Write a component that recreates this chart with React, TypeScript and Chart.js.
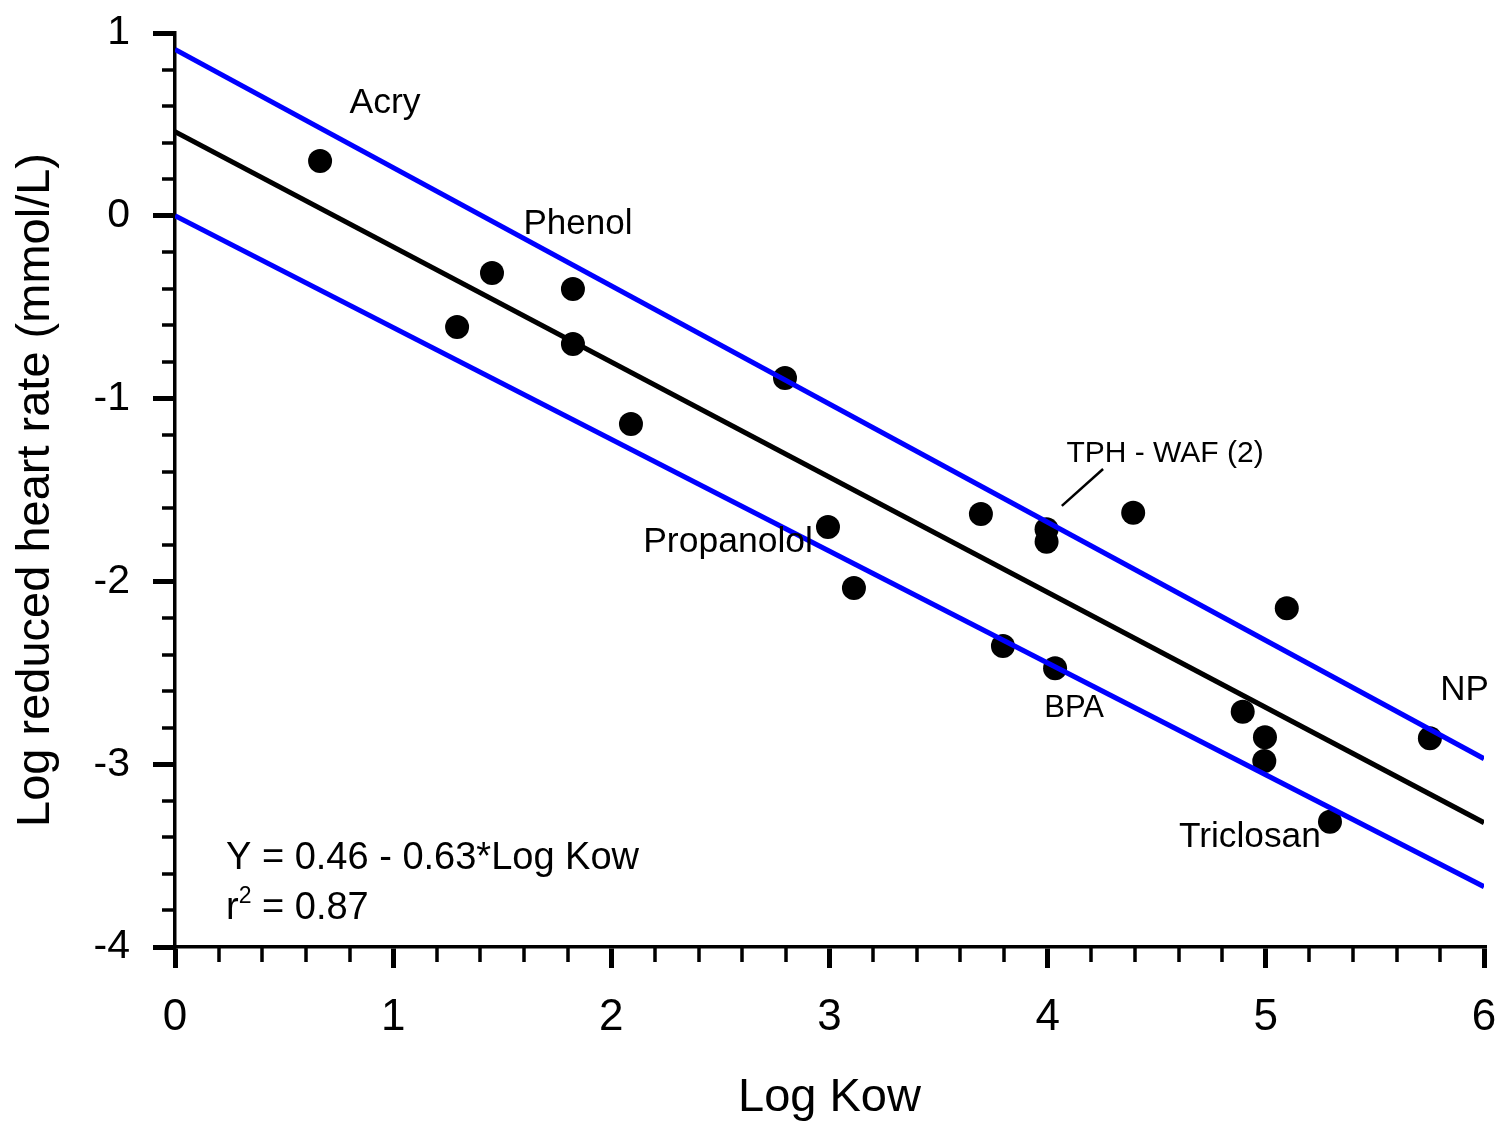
import React, { useEffect, useRef } from "react";
import { Chart, registerables } from "chart.js";

Chart.register(...registerables);

// Observed data (Log Kow vs Log reduced heart rate)
const logKow = [0.665, 1.453, 1.293, 1.824, 1.824, 2.09, 2.796, 2.993, 3.112, 3.694, 3.795, 3.995, 3.995, 4.034, 4.392, 5.096, 4.894, 4.996, 4.993, 5.294, 5.752];
const logHeartRate = [0.3, -0.313, -0.608, -0.4, -0.701, -1.139, -0.887, -1.702, -2.036, -1.631, -2.353, -1.715, -1.783, -2.475, -1.624, -2.147, -2.713, -2.853, -2.982, -3.315, -2.858];

// Regression line and bounds at the ends of the x range
const lineX = [0, 6];
const fitLine = [0.46, -3.32];
const upperLine = [0.91, -2.97];
const lowerLine = [0.0, -3.67];

// Axis ranges
const xRange = [0, 6];
const yRange = [-4, 1];

// Compound labels (text, anchored in data units)
const labelText = ["Acry", "Phenol", "TPH - WAF (2)", "Propanolol", "BPA", "NP", "Triclosan"];
const labelX = [0.9625, 1.847, 4.538, 2.535, 4.121, 5.911, 4.927];
const labelY = [0.562, -0.0996, -1.347, -1.839, -2.742, -2.649, -3.453];
const labelSize = [35.5, 35, 30, 35.5, 31, 35, 35.3];

const equationText = "Y = 0.46 - 0.63*Log Kow";
const r2Value = "0.87";

const FONT = "'Liberation Sans', Arial, Helvetica, sans-serif";

const overlayPlugin = {
  id: "overlay",
  afterDraw(chart: any) {
    const { ctx, chartArea } = chart;
    const x = chart.scales.x;
    const y = chart.scales.y;
    ctx.save();
    ctx.strokeStyle = "#000";
    ctx.lineWidth = 3.5;
    ctx.lineCap = "butt";
    // minor ticks
    for (let i = 0; i <= 30; i++) {
      if (i % 5 === 0) continue;
      const px = Math.round(x.getPixelForValue(xRange[0] + i * 0.2));
      ctx.beginPath();
      ctx.moveTo(px, chartArea.bottom);
      ctx.lineTo(px, chartArea.bottom + 15);
      ctx.stroke();
    }
    for (let i = 0; i <= 25; i++) {
      if (i % 5 === 0) continue;
      const py = Math.round(y.getPixelForValue(yRange[0] + i * 0.2));
      ctx.beginPath();
      ctx.moveTo(chartArea.left - 13, py);
      ctx.lineTo(chartArea.left, py);
      ctx.stroke();
    }
    // compound labels
    ctx.fillStyle = "#000";
    ctx.textBaseline = "alphabetic";
    ctx.textAlign = "center";
    for (let i = 0; i < labelText.length; i++) {
      ctx.font = `${labelSize[i]}px ${FONT}`;
      ctx.fillText(labelText[i], x.getPixelForValue(labelX[i]), y.getPixelForValue(labelY[i]));
    }
    // pointer for TPH - WAF (2)
    ctx.lineWidth = 2.5;
    ctx.beginPath();
    ctx.moveTo(x.getPixelForValue(4.065), y.getPixelForValue(-1.587));
    ctx.lineTo(x.getPixelForValue(4.254), y.getPixelForValue(-1.385));
    ctx.stroke();
    // equation
    ctx.textAlign = "left";
    ctx.font = `38px ${FONT}`;
    const ex = x.getPixelForValue(0.2338);
    ctx.fillText(equationText, ex, y.getPixelForValue(-3.573));
    const ry = y.getPixelForValue(-3.847);
    ctx.fillText("r", ex, ry);
    const rw = ctx.measureText("r").width;
    ctx.font = `23px ${FONT}`;
    ctx.fillText("2", ex + rw, ry - 16);
    const sw = ctx.measureText("2").width;
    ctx.font = `38px ${FONT}`;
    ctx.fillText(" = " + r2Value, ex + rw + sw, ry);
    ctx.restore();
  },
};

const zeroPadding = (s: any) => {
  s.paddingTop = 0;
  s.paddingBottom = 0;
  s.paddingLeft = 0;
  s.paddingRight = 0;
};

export default function App() {
  const ref = useRef<HTMLCanvasElement>(null);
  useEffect(() => {
    if (!ref.current) return;
    const chart = new Chart(ref.current, {
      type: "scatter",
      data: {
        datasets: [
          {
            type: "line",
            data: lineX.map((v, i) => ({ x: v, y: upperLine[i] })),
            borderColor: "#0000ff",
            borderWidth: 5,
            pointRadius: 0,
            fill: false,
            order: 0,
          },
          {
            type: "line",
            data: lineX.map((v, i) => ({ x: v, y: lowerLine[i] })),
            borderColor: "#0000ff",
            borderWidth: 5,
            pointRadius: 0,
            fill: false,
            order: 0,
          },
          {
            type: "line",
            data: lineX.map((v, i) => ({ x: v, y: fitLine[i] })),
            borderColor: "#000000",
            borderWidth: 5,
            pointRadius: 0,
            fill: false,
            order: 0,
          },
          {
            type: "scatter",
            data: logKow.map((v, i) => ({ x: v, y: logHeartRate[i] })),
            backgroundColor: "#000",
            borderWidth: 0,
            pointRadius: 12,
            order: 1,
          },
        ],
      },
      options: {
        responsive: false,
        animation: false,
        devicePixelRatio: 1,
        layout: { padding: { left: 0, top: 33, right: 17, bottom: 0 } },
        plugins: { legend: { display: false }, tooltip: { enabled: false } },
        scales: {
          x: {
            type: "linear",
            min: xRange[0],
            max: xRange[1],
            afterFit: (s: any) => {
              s.height = 176;
              zeroPadding(s);
            },
            ticks: { stepSize: 1, color: "#000", font: { size: 44, family: FONT }, padding: 23 },
            grid: { display: true, drawOnChartArea: false, color: "#000", tickLength: 21, lineWidth: 5 },
            border: { display: true, color: "#000", width: 3.5 },
            title: { display: true, text: "Log Kow", color: "#000", font: { size: 47, family: FONT }, padding: { top: 0, bottom: -3 } },
          },
          y: {
            type: "linear",
            min: yRange[0],
            max: yRange[1],
            afterFit: (s: any) => {
              s.width = 175;
              zeroPadding(s);
            },
            ticks: { stepSize: 1, color: "#000", font: { size: 41, family: FONT }, padding: 23 },
            grid: { display: true, drawOnChartArea: false, color: "#000", tickLength: 22, lineWidth: 5 },
            border: { display: true, color: "#000", width: 3.5 },
            title: { display: true, text: "Log reduced heart rate (mmol/L)", color: "#000", font: { size: 47, family: FONT }, padding: { top: 8, bottom: 0 } },
          },
        },
      },
      plugins: [overlayPlugin],
    });
    return () => chart.destroy();
  }, []);
  return (
    <div style={{ position: "absolute", left: 0, top: 0, width: 1501, height: 1123, background: "#fff" }}>
      <canvas ref={ref} width={1501} height={1123} />
    </div>
  );
}
